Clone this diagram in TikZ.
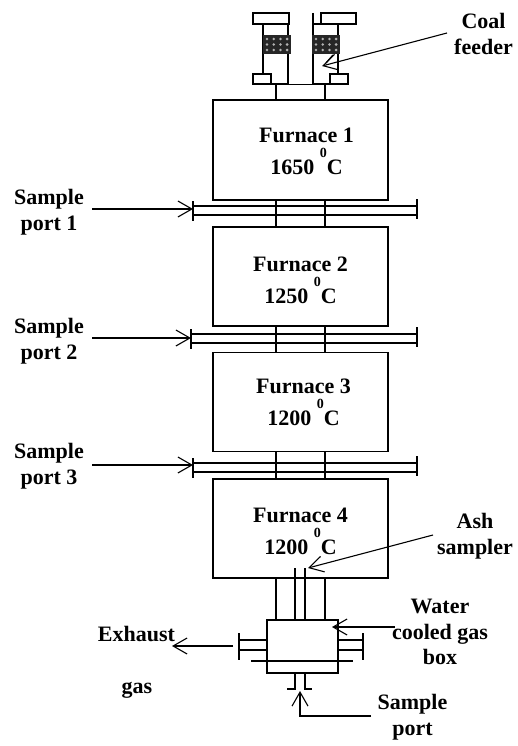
\documentclass[tikz,border=0pt]{standalone}
\usepackage{fontspec}
\setmainfont{Liberation Serif}
\usetikzlibrary{arrows.meta,calc}
\tikzset{
    furnace/.style = {draw, rectangle, line width=1.5pt, font=\bfseries\fontsize{22}{25}\selectfont, align=center,
        minimum width=175pt},
    lbl/.style = {font=\bfseries\fontsize{22}{25.5}\selectfont, align=center, inner sep=0pt},
    part/.style = {draw, rectangle, line width=1.5pt, inner sep=0pt},
    pipe/.style = {line width=1.3pt},
    arrow/.style = {draw, line width=1.1pt, -{Straight Barb[length=14pt,width=16pt,line width=1.1pt]}}
}
\newcommand{\degc}{\smash{\raisebox{17pt}{\fontsize{14}{14}\selectfont 0}}C}
\newcommand{\lift}[1]{\rule{0pt}{#1pt}}
\begin{document}
\begin{tikzpicture}[x=1pt,y=-1pt]
        \useasboundingbox (0,0) rectangle (517,746);
        % furnaces
        \node[furnace,minimum height=100pt] (f1) at (300.5,150) {\lift{18}\hspace*{12pt}Furnace 1\\[7pt]\hspace*{12pt}1650 \degc};
        \node[furnace,minimum height=99pt] (f2) at (300.5,276.5) {\lift{22}Furnace 2\\[7pt]1250 \degc};
        \node[furnace,minimum height=99pt] (f3) at (300.5,402) {\lift{16}\hspace*{6pt}Furnace 3\\[7pt]\hspace*{6pt}1200 \degc};
        \node[furnace,minimum height=99pt] (f4) at (300.5,528.5) {\lift{20}Furnace 4\\[7pt]1200 \degc};
        \foreach \a/\b in {f1/f2,f2/f3,f3/f4}{
            \draw[pipe] ([xshift=-24.5pt]\a.south) -- ([xshift=-24.5pt]\b.north);
            \draw[pipe] ([xshift=24.5pt]\a.south) -- ([xshift=24.5pt]\b.north);
        }
        % sample ports
        \foreach \i/\y/\ya/\yl/\xl in {1/206/209/212/193,2/334/338/341/191,3/463/465/466/193}{
            \coordinate (pl\i) at (\xl,\y);
            \coordinate (pr\i) at (417,\y);
            \draw[pipe] (pl\i) -- (pr\i);
            \draw[pipe] ($(pl\i)+(0,9)$) -- ($(pr\i)+(0,9)$);
            \draw[pipe] ($(pl\i)+(0,-5)$) -- ($(pl\i)+(0,15)$);
            \draw[pipe] ($(pr\i)+(0,-7)$) -- ($(pr\i)+(0,13)$);
            \node[lbl] (s\i) at (49,\yl) {Sample\\port \i};
            \coordinate (sa\i) at (92,\ya);
            \draw[arrow] (sa\i) -- (\xl,\ya);
        }
        % coal feeder
        \node[part,minimum width=36pt,minimum height=11pt] (capl) at (271,18.5) {};
        \node[part,minimum width=35pt,minimum height=11pt] (capr) at (338.5,18.5) {};
        \node[part,fill=white,minimum width=18pt,minimum height=10pt] (footl) at (262,79) {};
        \node[part,fill=white,minimum width=18pt,minimum height=10pt] (footr) at (339,79) {};
        \draw[pipe] (263,24) -- (263,74);
        \draw[pipe] (338,24) -- (338,74);
        \draw[pipe] (271,84) -- (288,84);
        \draw[line width=.7pt] (288,84) -- (313,84);
        \draw[pipe] (313,84) -- (330,84);
        \draw[pipe] (288,24) -- (288,84);
        \draw[pipe] (313,13) -- (313,84);
        \draw[pipe] (313,24) -- (321,24);
        \foreach \mx in {263,312}{
            \fill[black!85] (\mx,35) rectangle (\mx+28,54);
            \foreach \c in {0,1,2,3}{
                \foreach \r in {0,1,2}{
                    \fill[black!30] (\mx+4+\c*6.7,39+\r*5.5) circle (1.4);
                }
            }
        }
        \coordinate (hopl) at (276,84);
        \coordinate (hopr) at (325,84);
        \draw[pipe] (hopl) -- ([xshift=-24.5pt]f1.north);
        \draw[pipe] (hopr) -- ([xshift=24.5pt]f1.north);
        \node[lbl] (coal) at (483.5,34) {Coal\\feeder};
        \coordinate (coalend) at (447,33);
        \draw[arrow] (coalend) -- (322,66);
        \draw[pipe] (333,55) -- (326,63);
        % gas box
        \node[part,minimum width=71pt,minimum height=53pt] (box) at (302.5,646.5) {};
        \foreach \lx in {276,325}{
            \draw[pipe] (\lx,578) -- (\lx,620);
        }
        \foreach \lx in {295,305}{
            \draw[pipe] (\lx,568) -- (\lx,620);
        }
        \draw[pipe] (251,661) -- (353,661);
        \draw[pipe] (239,640) -- (box.west |- 0,640);
        \draw[pipe] (239,650) -- (box.west |- 0,650);
        \draw[pipe] (239,633) -- (239,660);
        \draw[pipe] (box.east |- 0,640) -- (363,640);
        \draw[pipe] (box.east |- 0,650) -- (363,650);
        \draw[pipe] (363,633) -- (363,660);
        \draw[pipe] (295,673) -- (295,689) -- (287,689);
        \draw[pipe] (305,673) -- (305,689) -- (312,689);
        % labels round the box
        \node[lbl] (ash) at (475,536) {Ash\\sampler};
        \coordinate (ashend) at (433,535);
        \draw[arrow] (ashend) -- (308,568);
        \node[lbl] (water) at (440,632) {Water\\cooled gas\\box};
        \coordinate (waterend) at (395,627);
        \draw[arrow] (waterend) -- (332,627);
        \node[lbl] (exhaust) at (136.5,634) {Exhaust};
        \node[lbl] (gas) at (137,690) {gas};
        \coordinate (exend) at (233,646);
        \draw[arrow] (exend) -- (172,646);
        \node[lbl] (port) at (412.5,717) {Sample\\port};
        \coordinate (portend) at (371,716);
        \draw[arrow] (portend) -- (300,716) -- (300,691);
        \end{tikzpicture}
\end{document}
